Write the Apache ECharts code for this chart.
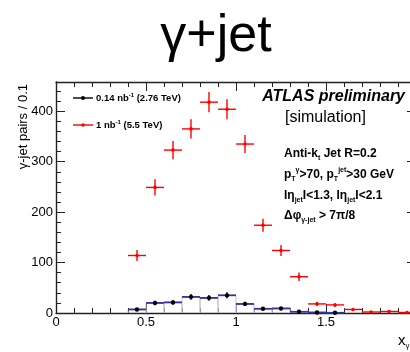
<!DOCTYPE html>
<html><head><meta charset="utf-8">
<script src="https://cdn.jsdelivr.net/npm/echarts@6/dist/echarts.min.js"></script>
<style>html,body{margin:0;padding:0;background:#fff}#c{width:410px;height:352px}</style>
</head><body><div id="c"></div>
<script>
// Bin centres (x_γJ), bin width 0.1
const binCenters = [0.45,0.55,0.65,0.75,0.85,0.95,1.05,1.15,1.25,1.35,1.45,1.55,1.65,1.75,1.85,1.95];
// 1 nb^-1 (5.5 TeV)
const redValues = [114,249,323,365,418,404,335,174,124,72,18,16,7,2,3,1];
const redErrors = [11,16,18,19,20,20,18,13,11,8.5,4.2,4,2.6,1.4,1.7,1];
// 0.14 nb^-1 (2.76 TeV)
const blackCenters = [0.45,0.55,0.65,0.75,0.85,0.95,1.05,1.15,1.25,1.35,1.45,1.55];
const blackValues = [7,20,21,32,30,35,18,8.5,9,2.6,1,0.6];
const blackErrors = [2.6,4.5,4.6,5.7,5.5,5.9,4.3,2.9,3,1.6,1,0.8];
const binWidth = 0.1;
const yTicks = [0,100,200,300,400];
const xTicks = [0,0.5,1,1.5,2];

const FONT = '"Liberation Sans", Arial, Helvetica, sans-serif';
const RED = '#ff0000', BLUE = '#3434a8', BLACK = '#000000';

function histItem(color, sideColor){
  return function(params, api){
    const x = api.value(0), y = api.value(1);
    const p0 = api.coord([x - binWidth/2, 0]);
    const p1 = api.coord([x + binWidth/2, y]);
    const children = [];
    if (sideColor) {
      children.push({type:'line', shape:{x1:p0[0],y1:p0[1],x2:p0[0],y2:p1[1]}, style:{stroke:sideColor, lineWidth:1}});
      children.push({type:'line', shape:{x1:p1[0],y1:p0[1],x2:p1[0],y2:p1[1]}, style:{stroke:sideColor, lineWidth:1}});
    }
    children.push({type:'line', shape:{x1:p0[0],y1:p1[1],x2:p1[0],y2:p1[1]}, style:{stroke:color, lineWidth:1.6}});
    return {type:'group', children};
  };
}
function errItem(color, r, hcolor){
  return function(params, api){
    const x = api.value(0), y = api.value(1), e = api.value(2);
    const c = api.coord([x, y]);
    const lo = api.coord([x, Math.max(0, y - e)]);
    const hi = api.coord([x, y + e]);
    const l = api.coord([x - binWidth/2, y]);
    const rr = api.coord([x + binWidth/2, y]);
    return {type:'group', children:[
      {type:'line', shape:{x1:l[0],y1:c[1],x2:rr[0],y2:c[1]}, style:{stroke:hcolor||color, lineWidth:1.4}},
      {type:'line', shape:{x1:c[0],y1:lo[1],x2:c[0],y2:hi[1]}, style:{stroke:color, lineWidth:1.4}},
      {type:'circle', shape:{cx:c[0],cy:c[1],r:r}, style:{fill:color}}
    ]};
  };
}

const chart = echarts.init(document.getElementById('c'), null, {renderer:'canvas'});
const axisLine = {show:true, onZero:false, lineStyle:{color:'#222', width:1.4}};
const grid = {left:56, top:82, width:360, height:231, containLabel:false, outerBoundsMode:'none'};
const xBase = {type:'value', min:0, max:2, interval:0.5, splitLine:{show:false},
  axisLine, axisTick:{show:true, inside:true, length:9, lineStyle:{color:'#222'}},
  minorTick:{show:true, splitNumber:5, length:5, lineStyle:{color:'#222'}}};
const yBase = {type:'value', min:0, max:458, interval:100, splitLine:{show:false},
  axisLine, axisTick:{show:true, inside:true, length:9, lineStyle:{color:'#222'}},
  minorTick:{show:true, splitNumber:5, length:5, lineStyle:{color:'#222'}}};

const sub = {fontSize:7, fontWeight:'bold', fontFamily:FONT, verticalAlign:'bottom', lineHeight:16, fill:'#000'};
const sup = {fontSize:7, fontWeight:'bold', fontFamily:FONT, verticalAlign:'top', lineHeight:16, fill:'#000'};
const base = {fontSize:12, fontWeight:'bold', fontFamily:FONT, lineHeight:16, fill:'#000'};
function rt(text, x, y){
  return {type:'text', x, y, style:{text, fontSize:12, fontWeight:'bold', fontFamily:FONT, fill:'#000', verticalAlign:'middle', lineHeight:16,
    rich:{b:base, sub, sup}}};
}

chart.setOption({
  animation:false,
  backgroundColor:'#fff',
  grid,
  xAxis:[
    Object.assign({}, xBase, {position:'bottom',
      axisLabel:{show:true, color:'#000', fontSize:13, fontFamily:FONT, margin:3,
        formatter:v => (xTicks.indexOf(v) >= 0 ? String(v) : '')}}),
    Object.assign({}, xBase, {position:'top', axisLabel:{show:false}})
  ],
  yAxis:[
    Object.assign({}, yBase, {position:'left',
      axisLabel:{show:true, color:'#000', fontSize:13, fontFamily:FONT, margin:3,
        formatter:v => (yTicks.indexOf(v) >= 0 ? String(v) : '')}}),
    Object.assign({}, yBase, {position:'right', axisLabel:{show:false}})
  ],
  series:[
    {type:'custom', renderItem:histItem(BLUE, '#c4c4cc'), data:blackCenters.map((x,i)=>[x, blackValues[i]]), z:2},
    {type:'custom', renderItem:errItem(RED, 1.8), data:binCenters.map((x,i)=>[x, redValues[i], redErrors[i]]), z:3},
    {type:'custom', renderItem:errItem(BLACK, 2.2, BLUE), data:blackCenters.map((x,i)=>[x, blackValues[i], blackErrors[i]]), z:4}
  ],
  graphic:[
    {type:'text', x:216, y:37, style:{text:'γ+jet', fontSize:52, fontFamily:FONT, fill:'#000', align:'center', verticalAlign:'middle'}},
    {type:'text', x:23, y:84, rotation:Math.PI/2, style:{text:'γ-jet pairs / 0.1', fontSize:13, fontFamily:FONT, fill:'#000', align:'right', verticalAlign:'middle'}},
    // legend
    {type:'line', shape:{x1:73,y1:98,x2:93,y2:98}, style:{stroke:BLACK, lineWidth:1.4}},
    {type:'circle', shape:{cx:83,cy:98,r:2}, style:{fill:BLACK}},
    {type:'text', x:96, y:98, style:{text:'{b|0.14 nb}{s|-1}{b| (2.76 TeV)}', verticalAlign:'middle',
      rich:{b:{fontSize:9.5, fontWeight:'bold', fontFamily:FONT, fill:'#000', lineHeight:12},
            s:{fontSize:6, fontWeight:'bold', fontFamily:FONT, fill:'#000', verticalAlign:'top', lineHeight:12}}}},
    {type:'line', shape:{x1:73,y1:125,x2:93,y2:125}, style:{stroke:RED, lineWidth:1.4}},
    {type:'circle', shape:{cx:83,cy:125,r:1.8}, style:{fill:RED}},
    {type:'text', x:96, y:125, style:{text:'{b|1 nb}{s|-1}{b| (5.5 TeV)}', verticalAlign:'middle',
      rich:{b:{fontSize:9.5, fontWeight:'bold', fontFamily:FONT, fill:'#000', lineHeight:12},
            s:{fontSize:6, fontWeight:'bold', fontFamily:FONT, fill:'#000', verticalAlign:'top', lineHeight:12}}}},
    // annotations
    {type:'text', x:405, y:97, style:{text:'ATLAS preliminary', fontSize:16, fontWeight:'bold', fontStyle:'italic', fontFamily:FONT, fill:'#000', align:'right', verticalAlign:'middle'}},
    {type:'text', x:285, y:118, style:{text:'[simulation]', fontSize:16, fontFamily:FONT, fill:'#000', align:'left', verticalAlign:'middle'}},
    rt('{b|Anti-k}{sub|t}{b| Jet R=0.2}', 284, 154),
    rt('{b|p}{sub|T}{sup|γ}{b|>70, p}{sub|T}{sup|jet}{b|>30 GeV}', 284, 175),
    rt('{b|Iη}{sub|jet}{b|I<1.3, Iη}{sub|jet}{b|I<2.1}', 284, 196),
    rt('{b|Δφ}{sub|γ-jet}{b| > 7π/8}', 284, 216),
    // x-axis name
    {type:'text', x:398, y:341, style:{text:'{b|x}{s|γ,}', verticalAlign:'middle',
      rich:{b:{fontSize:15, fontFamily:FONT, fill:'#000', lineHeight:18},
            s:{fontSize:8, fontFamily:FONT, fill:'#000', verticalAlign:'bottom', lineHeight:18}}}}
  ]
});
</script></body></html>
